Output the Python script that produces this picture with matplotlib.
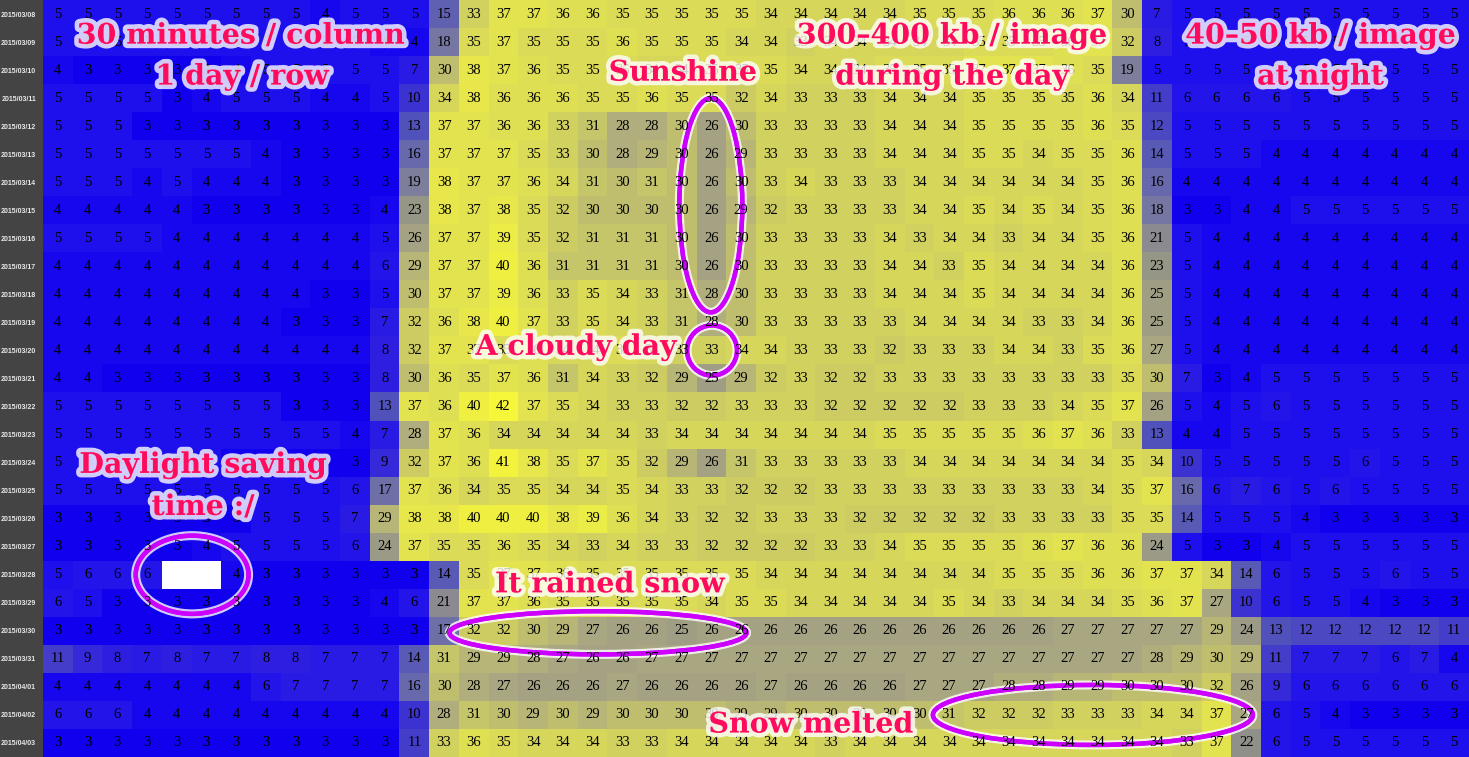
import numpy as np
import matplotlib
matplotlib.use('Agg')
from matplotlib import pyplot as plt
from matplotlib import patheffects
from matplotlib.colors import LinearSegmentedColormap, Normalize
from matplotlib.patches import Ellipse

nan = np.nan

dates = [
    '2015/03/08', '2015/03/09', '2015/03/10', '2015/03/11', '2015/03/12',
    '2015/03/13', '2015/03/14', '2015/03/15', '2015/03/16', '2015/03/17',
    '2015/03/18', '2015/03/19', '2015/03/20', '2015/03/21', '2015/03/22',
    '2015/03/23', '2015/03/24', '2015/03/25', '2015/03/26', '2015/03/27',
    '2015/03/28', '2015/03/29', '2015/03/30', '2015/03/31', '2015/04/01',
    '2015/04/02', '2015/04/03',
]

# image size in units of 10 kb, one value per half hour (48 per day)
sizes = [
    [5, 5, 5, 5, 5, 5, 5, 5, 5, 4, 5, 5, 5, 15, 33, 37, 37, 36, 36, 35, 35, 35, 35, 35,
     34, 34, 34, 34, 34, 35, 35, 35, 36, 36, 36, 37, 30, 7, 5, 5, 5, 5, 5, 5, 5, 5, 5, 5],
    [5, 5, 5, 5, 5, 5, 5, 5, 5, 5, 5, 4, 4, 18, 35, 37, 35, 35, 35, 36, 35, 35, 35, 34,
     34, 33, 34, 34, 34, 34, 34, 35, 35, 35, 36, 37, 32, 8, 5, 5, 5, 5, 5, 5, 5, 5, 5, 5],
    [4, 3, 3, 3, 3, 3, 4, 5, 5, 5, 5, 5, 7, 30, 38, 37, 36, 35, 35, 35, 34, 34, 35, 35,
     35, 34, 34, 34, 35, 35, 35, 37, 37, 37, 36, 35, 19, 5, 5, 5, 5, 5, 5, 5, 5, 5, 5, 5],
    [5, 5, 5, 5, 3, 4, 5, 5, 5, 4, 4, 5, 10, 34, 38, 36, 36, 36, 35, 35, 36, 35, 35, 32,
     34, 33, 33, 33, 34, 34, 34, 35, 35, 35, 35, 36, 34, 11, 6, 6, 6, 6, 5, 5, 5, 5, 5, 5],
    [5, 5, 5, 3, 3, 3, 3, 3, 3, 3, 3, 3, 13, 37, 37, 36, 36, 33, 31, 28, 28, 30, 26, 30,
     33, 33, 33, 33, 34, 34, 34, 35, 35, 35, 35, 36, 35, 12, 5, 5, 5, 5, 5, 5, 5, 5, 5, 5],
    [5, 5, 5, 5, 5, 5, 5, 4, 3, 3, 3, 3, 16, 37, 37, 37, 35, 33, 30, 28, 29, 30, 26, 29,
     33, 33, 33, 33, 34, 34, 34, 35, 35, 34, 35, 35, 36, 14, 5, 5, 5, 4, 4, 4, 4, 4, 4, 4],
    [5, 5, 5, 4, 5, 4, 4, 4, 3, 3, 3, 3, 19, 38, 37, 37, 36, 34, 31, 30, 31, 30, 26, 30,
     33, 34, 33, 33, 33, 34, 34, 34, 34, 34, 34, 35, 36, 16, 4, 4, 4, 4, 4, 4, 4, 4, 4, 4],
    [4, 4, 4, 4, 4, 3, 3, 3, 3, 3, 3, 4, 23, 38, 37, 38, 35, 32, 30, 30, 30, 30, 26, 29,
     32, 33, 33, 33, 33, 34, 34, 35, 34, 35, 34, 35, 36, 18, 3, 3, 4, 4, 5, 5, 5, 5, 5, 5],
    [5, 5, 5, 5, 4, 4, 4, 4, 4, 4, 4, 5, 26, 37, 37, 39, 35, 32, 31, 31, 31, 30, 26, 30,
     33, 33, 33, 33, 34, 33, 34, 34, 33, 34, 34, 35, 36, 21, 5, 4, 4, 4, 4, 4, 4, 4, 4, 4],
    [4, 4, 4, 4, 4, 4, 4, 4, 4, 4, 4, 6, 29, 37, 37, 40, 36, 31, 31, 31, 31, 30, 26, 30,
     33, 33, 33, 33, 34, 34, 33, 35, 34, 34, 34, 34, 36, 23, 5, 4, 4, 4, 4, 4, 4, 4, 4, 4],
    [4, 4, 4, 4, 4, 4, 4, 4, 4, 3, 3, 5, 30, 37, 37, 39, 36, 33, 35, 34, 33, 31, 28, 30,
     33, 33, 33, 33, 34, 34, 34, 35, 34, 34, 34, 34, 36, 25, 5, 4, 4, 4, 4, 4, 4, 4, 4, 4],
    [4, 4, 4, 4, 4, 4, 4, 4, 3, 3, 3, 7, 32, 36, 38, 40, 37, 33, 35, 34, 33, 31, 28, 30,
     33, 33, 33, 33, 33, 34, 34, 34, 34, 33, 33, 34, 36, 25, 5, 4, 4, 4, 4, 4, 4, 4, 4, 4],
    [4, 4, 4, 4, 4, 4, 4, 4, 4, 4, 4, 8, 32, 37, 37, 35, 36, 34, 34, 35, 34, 33, 33, 34,
     34, 33, 33, 33, 32, 33, 33, 33, 34, 34, 33, 35, 36, 27, 5, 4, 4, 4, 4, 4, 4, 4, 4, 4],
    [4, 4, 3, 3, 3, 3, 3, 3, 3, 3, 3, 8, 30, 36, 35, 37, 36, 31, 34, 33, 32, 29, 25, 29,
     32, 33, 32, 32, 33, 33, 33, 33, 33, 33, 33, 33, 35, 30, 7, 3, 4, 5, 5, 5, 5, 5, 5, 5],
    [5, 5, 5, 5, 5, 5, 5, 5, 3, 3, 3, 13, 37, 36, 40, 42, 37, 35, 34, 33, 33, 32, 32, 33,
     33, 33, 32, 32, 32, 32, 32, 33, 33, 33, 34, 35, 37, 26, 5, 4, 5, 6, 5, 5, 5, 5, 5, 5],
    [5, 5, 5, 5, 5, 5, 5, 5, 5, 5, 4, 7, 28, 37, 36, 34, 34, 34, 34, 34, 33, 34, 34, 34,
     34, 34, 34, 34, 35, 35, 35, 35, 35, 36, 37, 36, 33, 13, 4, 4, 5, 5, 5, 5, 5, 5, 5, 5],
    [5, 5, 5, 5, 5, 5, 3, 3, 3, 3, 3, 9, 32, 37, 36, 41, 38, 35, 37, 35, 32, 29, 26, 31,
     33, 33, 33, 33, 33, 34, 34, 34, 34, 34, 34, 34, 35, 34, 10, 5, 5, 5, 5, 5, 6, 5, 5, 5],
    [5, 5, 5, 5, 5, 5, 5, 5, 5, 5, 6, 17, 37, 36, 34, 35, 35, 34, 34, 35, 34, 33, 33, 32,
     32, 32, 33, 33, 33, 33, 33, 33, 33, 33, 33, 34, 35, 37, 16, 6, 7, 6, 5, 6, 5, 5, 5, 5],
    [3, 3, 3, 3, 3, 3, 3, 5, 5, 5, 7, 29, 38, 38, 40, 40, 40, 38, 39, 36, 34, 33, 32, 32,
     33, 33, 33, 32, 32, 32, 32, 32, 33, 33, 33, 33, 35, 35, 14, 5, 5, 5, 4, 3, 3, 3, 3, 3],
    [3, 3, 3, 3, 3, 4, 5, 5, 5, 5, 6, 24, 37, 35, 35, 36, 35, 34, 33, 34, 33, 33, 32, 32,
     32, 32, 33, 33, 34, 35, 35, 35, 35, 36, 37, 36, 36, 24, 5, 3, 3, 4, 5, 5, 5, 5, 5, 5],
    [5, 6, 6, 6, nan, nan, 4, 3, 3, 3, 3, 3, 3, 14, 35, 37, 37, 36, 35, 35, 35, 35, 35, 35,
     34, 34, 34, 34, 34, 34, 34, 34, 35, 35, 35, 36, 36, 37, 37, 34, 14, 6, 5, 5, 5, 6, 5, 5],
    [6, 5, 3, 3, 3, 3, 3, 3, 3, 3, 3, 4, 6, 21, 37, 37, 36, 35, 35, 35, 35, 35, 34, 35,
     35, 34, 34, 34, 34, 34, 35, 34, 33, 34, 34, 34, 35, 36, 37, 27, 10, 6, 5, 5, 4, 3, 3, 3],
    [3, 3, 3, 3, 3, 3, 3, 3, 3, 3, 3, 3, 3, 17, 32, 32, 30, 29, 27, 26, 26, 25, 26, 26,
     26, 26, 26, 26, 26, 26, 26, 26, 26, 26, 27, 27, 27, 27, 27, 29, 24, 13, 12, 12, 12, 12, 12, 11],
    [11, 9, 8, 7, 8, 7, 7, 8, 8, 7, 7, 7, 14, 31, 29, 29, 28, 27, 26, 26, 27, 27, 27, 27,
     27, 27, 27, 27, 27, 27, 27, 27, 27, 27, 27, 27, 27, 28, 29, 30, 29, 11, 7, 7, 7, 6, 7, 4],
    [4, 4, 4, 4, 4, 4, 4, 6, 7, 7, 7, 7, 16, 30, 28, 27, 26, 26, 26, 27, 26, 26, 26, 26,
     27, 26, 26, 26, 26, 27, 27, 27, 28, 28, 29, 29, 30, 30, 30, 32, 26, 9, 6, 6, 6, 6, 6, 6],
    [6, 6, 6, 4, 4, 4, 4, 4, 4, 4, 4, 4, 10, 28, 31, 30, 29, 30, 29, 30, 30, 30, 30, 29,
     29, 30, 30, 30, 30, 30, 31, 32, 32, 32, 33, 33, 33, 34, 34, 37, 27, 6, 5, 4, 3, 3, 3, 3],
    [3, 3, 3, 3, 3, 3, 3, 3, 3, 3, 3, 3, 11, 33, 36, 35, 34, 34, 34, 33, 33, 34, 34, 34,
     34, 34, 33, 34, 34, 34, 34, 34, 34, 34, 34, 34, 34, 34, 33, 37, 22, 6, 5, 5, 5, 5, 5, 5],
]

notes = ['30 minutes / column', '1 day / row', 'Sunshine',
         '300\u2013400 kb / image', 'during the day',
         '40\u201350 kb / image', 'at night', 'A cloudy day',
         'Daylight saving', 'time :/', 'It rained snow', 'Snow melted']
note_xy = [(6.16, 0.79), (6.2, 2.25), (21.04, 2.11), (30.1, 0.79), (30.1, 2.25),
           (42.5, 0.79), (42.5, 2.25), (17.44, 11.89), (4.89, 16.1), (4.89, 17.6),
           (18.58, 20.36), (25.35, 25.36)]

# (x, y, width, height) in cell units
rings = [(21.98, 6.82, 2.12, 7.64), (22.02, 12.0, 1.68, 1.79), (4.52, 20.0, 3.8, 2.79),
         (18.18, 22.07, 10.0, 1.54), (34.84, 25.0, 10.77, 2.14)]

data = np.array(sizes, dtype=float)

cmap = LinearSegmentedColormap.from_list('kb', [
    (0.0, '#1000ee'), (0.05, '#1e10ee'), (0.13, '#3020e0'), (0.25, '#5050bc'),
    (0.36, '#7070a8'), (0.5, '#949488'), (0.62, '#aaa882'), (0.74, '#cccc64'),
    (0.85, '#e0e054'), (0.95, '#f0f042'), (1.0, '#f6f63a')])
cmap.set_bad('white')

fig = plt.figure(figsize=(14.69, 7.57), dpi=100)
fig.patch.set_facecolor('#444444')
ax = fig.add_axes([43 / 1469, 0, 1426 / 1469, 1])
ax.imshow(data, cmap=cmap, norm=Normalize(3, 42), aspect='auto',
          interpolation='nearest')

for i, row in enumerate(data):
    for j, v in enumerate(row):
        if not np.isnan(v):
            ax.text(j, i, str(int(v)), ha='center', va='center',
                    fontsize=10.5, family='Liberation Serif', color='black')

ax.set_xticks([])
ax.set_yticks(range(len(dates)))
ax.set_yticklabels(dates, fontsize=5, fontweight='bold',
                   family='Liberation Sans', color='#e8e8e8')
ax.tick_params(length=0, pad=5)
for s in ax.spines.values():
    s.set_visible(False)

halo = [patheffects.withStroke(linewidth=6.5, foreground='white', alpha=0.8),
        patheffects.Normal()]
for (x, y, w, h) in rings:
    e = Ellipse((x, y), w, h, fill=False, edgecolor='#cc00ff', linewidth=3.2)
    e.set_path_effects(halo)
    ax.add_patch(e)

for txt, (x, y) in zip(notes, note_xy):
    ax.text(x, y, txt, ha='center', va='center', fontsize=20.5,
            family='DejaVu Serif', fontweight='bold', color='#ff0b5e',
            path_effects=[patheffects.withStroke(linewidth=6.5, foreground='white',
                                                 alpha=0.8)])

plt.savefig('out.png', dpi=100, facecolor=fig.get_facecolor())
